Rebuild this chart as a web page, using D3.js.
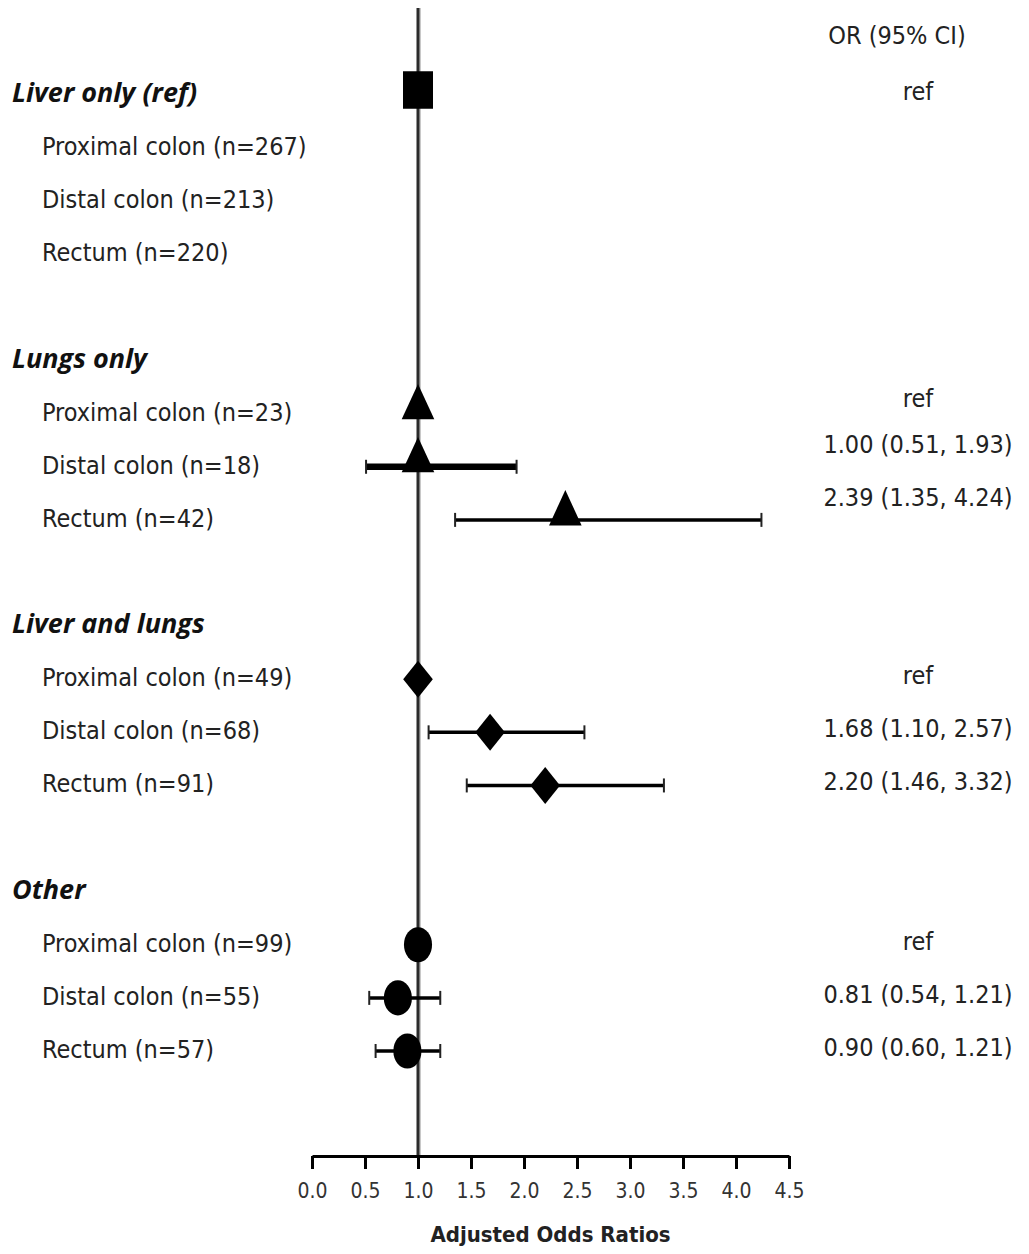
<!DOCTYPE html>
<html>
<head>
<meta charset="utf-8">
<script src="https://cdn.jsdelivr.net/npm/d3@7"></script>
<style>
  html, body { margin: 0; padding: 0; background: #fff; }
  svg { display: block; }
  .label { font-family: 'Liberation Sans Narrow', 'DejaVu Sans Condensed', 'Open Sans', sans-serif; fill: #222; }
  .group-label { font-family: 'Open Sans', 'Liberation Sans', sans-serif; font-weight: 700; font-style: italic; fill: #111; }
  .x-axis text { font-family: 'Liberation Sans Narrow', 'DejaVu Sans Condensed', sans-serif; font-size: 21px; fill: #333; }
  .x-axis path, .x-axis line { stroke: #000; stroke-width: 3; }
</style>
</head>
<body>
<svg id="chart"></svg>
<script>
const groups = ['Liver only (ref)', 'Lungs only', 'Liver and lungs', 'Other'];
const sites = ['Proximal colon', 'Distal colon', 'Rectum'];
const counts = [
  [267, 213, 220],
  [23, 18, 42],
  [49, 68, 91],
  [99, 55, 57],
];

// group reference marker (only the liver-only group has one on its title row)
const headerEstimates = [1.0, null, null, null];
const headerText = ['ref', '', '', ''];

// odds ratios per site, null = no estimate; lower/upper = 95% CI
const estimates = [
  [null, null, null],
  [1.0, 1.0, 2.39],
  [1.0, 1.68, 2.2],
  [1.0, 0.81, 0.9],
];
const lower = [
  [null, null, null],
  [null, 0.51, 1.35],
  [null, 1.1, 1.46],
  [null, 0.54, 0.6],
];
const upper = [
  [null, null, null],
  [null, 1.93, 4.24],
  [null, 2.57, 3.32],
  [null, 1.21, 1.21],
];

const xTicks = [0, 0.5, 1, 1.5, 2, 2.5, 3, 3.5, 4, 4.5];
const xTitle = 'Adjusted Odds Ratios';
const columnTitle = 'OR (95% CI)';

const WIDTH = 1029;
const HEIGHT = 1254;

const svg = d3.select('#chart').attr('width', WIDTH).attr('height', HEIGHT);

//
// Scales
//

const x = d3.scaleLinear().domain([0, 4.5]).range([312, 789]);

// one slot per text row: title, 3 sites, blank gap
const SLOTS_PER_GROUP = 5;
const y = d3.scaleLinear().domain([0, 18]).range([95, 1051]);

const AXIS_Y = 1156;
const fmt = d3.format('.2f');

const symbolTypes = [d3.symbolSquare, d3.symbolTriangle, d3.symbolDiamond2, d3.symbolCircle];
const symbolSizes = [900, 460, 560, 620];

//
// Rows
//

const rows = [];
groups.forEach((g, gi) => {
  rows.push({
    kind: 'header', group: gi, slot: gi * SLOTS_PER_GROUP,
    text: g, est: headerEstimates[gi], lo: null, hi: null, or: headerText[gi],
  });
  sites.forEach((s, si) => {
    const est = estimates[gi][si];
    let or = '';
    if (est != null) {
      or = lower[gi][si] == null ? 'ref' : `${fmt(est)} (${fmt(lower[gi][si])}, ${fmt(upper[gi][si])})`;
    }
    rows.push({
      kind: 'site', group: gi, slot: gi * SLOTS_PER_GROUP + 1 + si,
      text: `${s} (n=${counts[gi][si]})`, est, lo: lower[gi][si], hi: upper[gi][si], or,
    });
  });
});

//
// Reference line at OR = 1
//

svg.append('line')
  .attr('x1', x(1) + 2).attr('x2', x(1) + 2)
  .attr('y1', 8).attr('y2', AXIS_Y)
  .attr('stroke', '#c8c8c8').attr('stroke-width', 2);

svg.append('line')
  .attr('x1', x(1)).attr('x2', x(1))
  .attr('y1', 8).attr('y2', AXIS_Y)
  .attr('stroke', '#2b2b2b').attr('stroke-width', 3);

//
// X axis
//

svg.append('g')
  .attr('class', 'x-axis')
  .attr('transform', `translate(0, ${AXIS_Y})`)
  .call(d3.axisBottom(x).tickValues(xTicks).tickSize(13).tickSizeOuter(0).tickPadding(14).tickFormat(d3.format('.1f')));

svg.append('text')
  .attr('x', (x(0) + x(4.5)) / 2)
  .attr('y', 1236)
  .attr('text-anchor', 'middle')
  .attr('dominant-baseline', 'middle')
  .style('font-family', "'Liberation Sans Narrow', 'DejaVu Sans Condensed', sans-serif")
  .style('font-weight', 700)
  .style('font-size', '22px')
  .style('fill', '#222')
  .text(xTitle);

//
// Left labels
//

svg.append('g').selectAll('text')
  .data(rows)
  .join('text')
  .attr('class', (d) => (d.kind === 'header' ? 'group-label' : 'label'))
  .attr('x', (d) => (d.kind === 'header' ? 12 : 42))
  .attr('y', (d) => y(d.slot))
  .attr('dominant-baseline', 'middle')
  .style('font-size', (d) => (d.kind === 'header' ? '27px' : '25px'))
  .text((d) => d.text);

//
// Right column
//

svg.append('text')
  .attr('class', 'label')
  .attr('x', 897).attr('y', 37)
  .attr('text-anchor', 'middle')
  .attr('dominant-baseline', 'middle')
  .style('font-size', '25px')
  .text(columnTitle);

// the lungs-only column sits a little higher than its rows
const orOffset = (d) => {
  if (d.group !== 1) return -2;
  return d.or === 'ref' ? -14 : -21;
};

svg.append('g').selectAll('text')
  .data(rows.filter((d) => d.or))
  .join('text')
  .attr('class', 'label')
  .attr('x', 918)
  .attr('y', (d) => y(d.slot) + orOffset(d))
  .attr('text-anchor', 'middle')
  .attr('dominant-baseline', 'middle')
  .style('font-size', '25px')
  .text((d) => d.or);

//
// Confidence intervals
//

const ciRows = rows.filter((d) => d.lo != null);
const ci = svg.append('g');

ci.selectAll('line.ci')
  .data(ciRows)
  .join('line')
  .attr('class', 'ci')
  .attr('x1', (d) => x(d.lo)).attr('x2', (d) => x(d.hi))
  .attr('y1', (d) => y(d.slot)).attr('y2', (d) => y(d.slot))
  .attr('stroke', '#000')
  .attr('stroke-width', (d) => (d.group === 1 && d.est === 1 ? 6.5 : 3.5));

['lo', 'hi'].forEach((k) => {
  ci.selectAll(`line.cap-${k}`)
    .data(ciRows)
    .join('line')
    .attr('class', `cap-${k}`)
    .attr('x1', (d) => x(d[k])).attr('x2', (d) => x(d[k]))
    .attr('y1', (d) => y(d.slot) - 7).attr('y2', (d) => y(d.slot) + 7)
    .attr('stroke', '#222')
    .attr('stroke-width', 2);
});

//
// Markers
//

svg.append('g').selectAll('path')
  .data(rows.filter((d) => d.est != null))
  .join('path')
  .attr('transform', (d) => {
    const dy = d.group === 1 ? 5 : 0;
    return `translate(${x(d.est)}, ${y(d.slot) - (d.kind === 'header' ? 5 : 0)}) scale(1, 1.25) translate(0, ${-dy})`;
  })
  .attr('d', (d) => d3.symbol().type(symbolTypes[d.group]).size(symbolSizes[d.group])())
  .attr('fill', '#000');
</script>
</body>
</html>
